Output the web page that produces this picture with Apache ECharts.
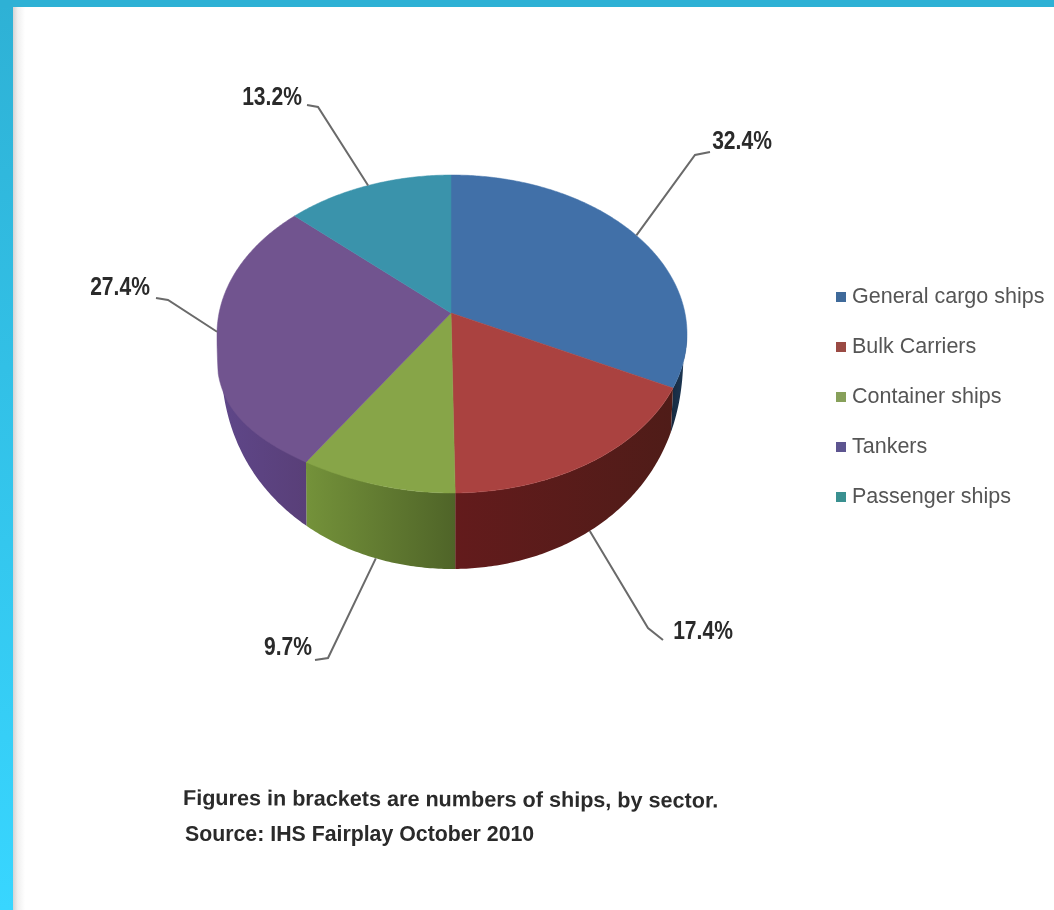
<!DOCTYPE html>
<html><head><meta charset="utf-8">
<style>html,body{margin:0;padding:0;background:#fff}#c{width:1054px;height:910px}</style>
<script src="https://cdn.jsdelivr.net/npm/echarts@6/dist/echarts.min.js"></script>
</head><body><div id="c"></div>
<script>
const categories = ['General cargo ships','Bulk Carriers','Container ships','Tankers','Passenger ships'];
const shares = [32.4,17.4,9.7,27.4,13.2];
const footnotes = ['Figures in brackets are numbers of ships, by sector.','Source: IHS Fairplay October 2010'];

const topColors = ['#4170a8','#aa4240','#87a548','#71548f','#3a93ab'];
const legendColors = ['#3f6a9a','#9a4a44','#87a05a','#5d5590','#3a9090'];
const wallStops = [['#16293f','#1f3a58'],['#631b1c','#4f1c18'],['#74923a','#4f6428'],['#5f478a','#593f78'],['#2a6a7a','#2a6a7a']];

// Projection of the tilted disc
const G = {ax:451, ay:313, cx:452, cy:334, rx:235, ry:159, depth:76, inset:0.015, bulge:24};
const total = shares.reduce((a,b)=>a+b,0);
function rim(t){
  const dx=G.rx*Math.sin(t), dy=-G.ry*Math.cos(t);
  const ox=(G.ax-G.cx)/G.rx, oy=(G.ay-G.cy)/G.ry, ux=dx/G.rx, uy=dy/G.ry;
  const a=ux*ux+uy*uy, b=2*(ox*ux+oy*uy), c=ox*ox+oy*oy-1;
  const s=(-b+Math.sqrt(b*b-4*a*c))/(2*a);
  return [G.ax+s*dx, G.ay+s*dy];
}
function base(p){
  const f=Math.max(0,(p[1]-G.cy)/G.ry);
  return [p[0]+(G.cx-p[0])*G.inset*(1-f), p[1]+G.depth*Math.sqrt(f)];
}
// The picture's perspective pushes the front-left edge of the top face down a little
function topEdge(p){
  const u=(G.cx-p[0])/G.rx, f=(p[1]-G.cy)/G.ry;
  if(u<=0||f<=0) return p;
  return [p[0], p[1]+G.bulge*Math.pow(u,4)*Math.min(1,f/0.1)];
}
function angleAt(i,frac){
  let c=0; for(let k=0;k<i;k++) c+=shares[k];
  return (c+shares[i]*frac)/total*2*Math.PI;
}
function sliceItem(i){
  return function(params,api){
    const v=api.value(0), t0=angleAt(i,0), t1=t0+v/total*2*Math.PI;
    const n=Math.max(8,Math.round(v*6)), arc=[];
    for(let k=0;k<=n;k++) arc.push(rim(t0+(t1-t0)*k/n));
    const front=arc.filter(p=>p[1]>=G.cy);
    const children=[];
    if(front.length>1){
      const poly=front.concat(front.map(base).reverse());
      const grad=new echarts.graphic.LinearGradient(0,0,1,0,[{offset:0,color:wallStops[i][0]},{offset:1,color:wallStops[i][1]}]);
      children.push({type:'polygon',shape:{points:poly},style:{fill:grad,stroke:null}});
    }
    children.push({type:'polygon',shape:{points:[[G.ax,G.ay]].concat(arc.map(topEdge))},style:{fill:topColors[i],stroke:topColors[i],lineWidth:0.5}});
    return {type:'group',children};
  };
}
// Leader lines start at each slice's middle; bend and label spots are annotation layout
const onWall=[false,true,true,false,false];
const elbows=[[695,155],[648,628],[328,658],[168,300],[318,107]];
const ends=[[710,152],[663,640],[315,660],[156,298],[307,105]];
const labelSpots=[[742,142],[703,632],[288,648],[120,288],[272,98]];

const series=categories.map((name,i)=>({
  name, type:'custom', coordinateSystem:'none', silent:true, animation:false, z:2,
  itemStyle:{color:legendColors[i]},
  renderItem:sliceItem(i), data:[[shares[i]]]
}));
series.push({
  name:'labels', type:'custom', coordinateSystem:'none', silent:true, animation:false, z:3,
  renderItem(params,api){
    const i=params.dataIndex, r=rim(angleAt(i,0.5)), a=onWall[i]?base(r):r;
    return {type:'group',children:[
      {type:'polyline',shape:{points:[a,elbows[i],ends[i]]},style:{stroke:'#6a6a6a',lineWidth:2,fill:null}},
      {type:'text',x:labelSpots[i][0],y:labelSpots[i][1],scaleX:0.81,style:{text:api.value(0).toFixed(1)+'%',x:0,y:0,align:'center',verticalAlign:'middle',
        font:'bold 26px "Liberation Sans",sans-serif',fill:'#2a2a2a'}}
    ]};
  },
  data:shares.map(v=>[v])
});

const chart=echarts.init(document.getElementById('c'),null,{renderer:'canvas'});
chart.setOption({
  backgroundColor:'#fff', animation:false,
  legend:{data:categories, orient:'vertical', left:831, top:277, icon:'rect', itemWidth:10, itemHeight:10, itemGap:20, selectedMode:false,
    textStyle:{fontFamily:'"Liberation Sans",sans-serif',fontSize:21.5,lineHeight:30,color:'#555',padding:[0,0,0,1]}},
  graphic:[
    {type:'rect',silent:true,z:1,shape:{x:13,y:7,width:12,height:903},style:{fill:new echarts.graphic.LinearGradient(0,0,1,0,[{offset:0,color:'#d4d4d4'},{offset:0.4,color:'#f0f0f0'},{offset:1,color:'#ffffff'}])}},
    {type:'rect',silent:true,z:1,shape:{x:0,y:0,width:13,height:910},style:{fill:new echarts.graphic.LinearGradient(0,0,0,1,[{offset:0,color:'#2eb1d5'},{offset:1,color:'#38d6ff'}])}},
    {type:'rect',silent:true,z:1,shape:{x:0,y:0,width:1054,height:7},style:{fill:'#2eb1d5'}},
    {type:'text',silent:true,z:4,x:183,y:799,rotation:-0.005,style:{text:footnotes[0],x:0,y:0,verticalAlign:'middle',font:'bold 21.6px "Liberation Sans",sans-serif',fill:'#2a2a2a'}},
    {type:'text',silent:true,z:4,x:185,y:835,style:{text:footnotes[1],x:0,y:0,verticalAlign:'middle',font:'bold 21.3px "Liberation Sans",sans-serif',fill:'#2a2a2a'}}
  ],
  series
});
</script></body></html>
